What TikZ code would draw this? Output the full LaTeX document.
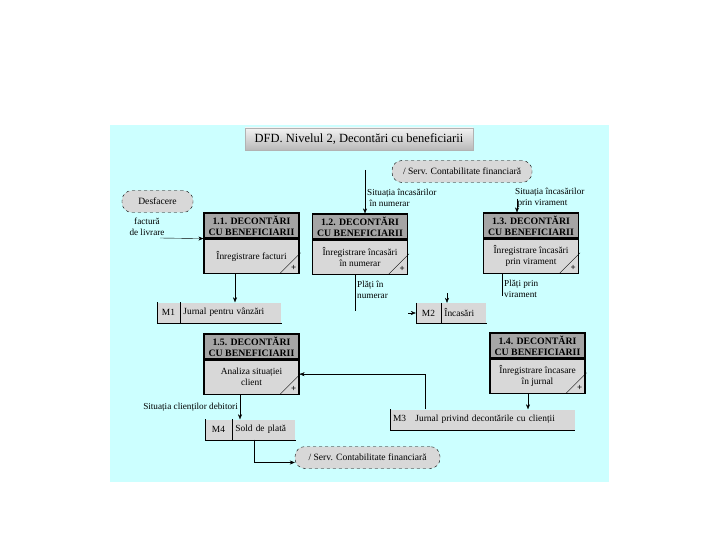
\documentclass[tikz,border=0pt]{standalone}
\usepackage{fontspec}
\setmainfont{Liberation Serif}
\usetikzlibrary{arrows.meta,positioning,calc}
\definecolor{bgCyan}{RGB}{204,255,255}
\definecolor{headGray}{RGB}{165,165,165}
\definecolor{bodyGray}{RGB}{216,216,216}
\begin{document}
\begin{tikzpicture}[x=1pt,y=-1pt,
    flow/.style={-{Stealth[length=5pt,width=4pt]}},
    prochead/.style={draw, line width=1.2pt, fill=headGray, minimum width=95pt,
      minimum height=25pt, inner sep=1pt, align=center,
      font=\fontsize{9.8}{11}\selectfont\bfseries},
    procbody/.style={draw, line width=1.2pt, fill=bodyGray, minimum width=95pt,
      minimum height=34pt, inner sep=1pt, align=center,
      font=\fontsize{9.4}{11}\selectfont},
    storecell/.style={fill=bodyGray, minimum height=20pt, inner sep=2pt,
      font=\fontsize{9.4}{11}\selectfont},
    entity/.style={draw, dashed, fill=bodyGray, rounded corners=10pt,
      minimum height=22pt, font=\fontsize{9.6}{11}\selectfont},
    lbl/.style={align=left, inner sep=0pt, font=\fontsize{9.2}{10.5}\selectfont}]
  \useasboundingbox (0,0) rectangle (720,540);
  \fill[bgCyan] (110,125) rectangle (609,482);

  % title
  \node[draw=gray!60, top color=gray!10, bottom color=gray!55,
    minimum width=228pt, minimum height=22pt,
    font=\fontsize{12.5}{14}\selectfont] (title) at (359,139)
    {DFD. Nivelul 2, Decontări cu beneficiarii};

  % external entities
  \node[entity, minimum width=71pt] (desf) at (157.5,201.5) {Desfacere};
  \node[entity, minimum width=140pt] (scfA) at (462,171.5)
    {/ Serv. Contabilitate financiară};
  \node[entity, minimum width=145pt] (scfB) at (367.5,457.5)
    {/ Serv. Contabilitate financiară};

  % processes
  \node[prochead] (p11h) at (251.5,225.5) {1.1. DECONTĂRI\\CU BENEFICIARII};
  \node[procbody, below=0pt of p11h] (p11b) {Înregistrare facturi};
  \node[prochead] (p12h) at (360,226.5) {1.2. DECONTĂRI\\CU BENEFICIARII};
  \node[procbody, below=0pt of p12h] (p12b) {Înregistrare încasări\\în numerar};
  \node[prochead] (p13h) at (531,225.5) {1.3. DECONTĂRI\\CU BENEFICIARII};
  \node[procbody, below=0pt of p13h] (p13b) {Înregistrare încasări\\prin virament};
  \node[prochead] (p15h) at (251.5,346.5) {1.5. DECONTĂRI\\CU BENEFICIARII};
  \node[procbody, below=0pt of p15h] (p15b) {Analiza situației\\client};
  \node[prochead] (p14h) at (537.5,345.5) {1.4. DECONTĂRI\\CU BENEFICIARII};
  \node[procbody, below=0pt of p14h] (p14b) {Înregistrare încasare\\în jurnal};

  % corner marks
  \foreach \p in {p11b,p12b,p13b,p15b,p14b} {
    \draw ($(\p.south east)+(-20,0)$) -- ($(\p.south east)+(1,-21)$);
    \node[inner sep=0pt, font=\bfseries\small] at ($(\p.south east)+(-6,-6)$) {+};
  }

  % data stores
  \node[storecell, minimum width=23pt] (m1id) at (168.5,312.5) {M1};
  \node[storecell, minimum width=101pt, text width=95pt, align=left,
    right=0pt of m1id] (m1) {Jurnal pentru vânzări};
  \node[storecell, minimum width=25pt] (m2id) at (428.5,313) {M2};
  \node[storecell, minimum width=45pt, text width=39pt, align=left,
    right=0pt of m2id] (m2) {Încasări};
  \node[storecell, minimum width=185pt, text width=179pt, align=left] (m3)
    at (482.5,419.5) {M3\quad Jurnal privind decontările cu clienții};
  \node[storecell, minimum width=27pt] (m4id) at (218.5,429.5) {M4};
  \node[storecell, minimum width=63pt, text width=57pt, align=left,
    right=0pt of m4id] (m4) {Sold de plată};
  \foreach \s in {m1,m2,m4} {
    \draw (\s id.north west) -- (\s id.south west) -- (\s.south east);
    \draw (\s id.north east) -- (\s id.south east);
  }
  \draw (m3.north west) -- (m3.south west) -- (m3.south east);

  % flows
  \coordinate (fin) at (160,238);
  \draw[flow] (fin) -- (p11h.south west);
  \node[lbl, align=center] (lfact) at (147,227) {factură\\de livrare};

  \coordinate (s12) at (365,170);
  \draw[flow] (s12) -- (s12 |- p12h.north);
  \node[lbl, anchor=west] (ls12) at (367,198) {Situația încasărilor\\\ în numerar};

  \coordinate (s13) at (517,199);
  \draw[flow] (s13) -- (s13 |- p13h.north);
  \node[lbl, anchor=west] (ls13) at (515,198) {Situația încasărilor\\\ prin virament};

  \draw[flow] ([xshift=-16.5pt]p11b.south) -- ([xshift=-16.5pt]p11b.south |- m1.north);

  \coordinate (e12) at (355,311);
  \draw ([xshift=-5pt]p12b.south) -- (e12);
  \node[lbl, anchor=west] (lp12) at (357,290) {Plăți în\\numerar};
  \coordinate (in2) at (408,313);
  \draw[flow] (in2) -- (m2id.west);

  \coordinate (e13) at (502,296);
  \draw ([xshift=-29pt]p13b.south) -- (e13);
  \node[lbl, anchor=west] (lp13) at (504,289) {Plăți prin\\virament};
  \coordinate (in2b) at (447,293);
  \draw[flow] (in2b) -- (in2b |- m2.north);

  \draw[flow] ([xshift=-9.5pt]p14b.south) -- ([xshift=-9.5pt]p14b.south |- m3.north);

  \draw[flow] ([xshift=35pt]m3.north west) |- ([yshift=3pt]p15b.east);

  \draw[flow] ([xshift=-11.5pt]p15b.south) -- ([xshift=-11.5pt]p15b.south |- m4.north);
  \node[lbl, anchor=east] (lsit) at (238,407) {Situația clienților debitori};

  \draw[flow] ([xshift=-10pt]m4.south) |- ([yshift=-5pt]scfB.west);
\end{tikzpicture}
\end{document}
